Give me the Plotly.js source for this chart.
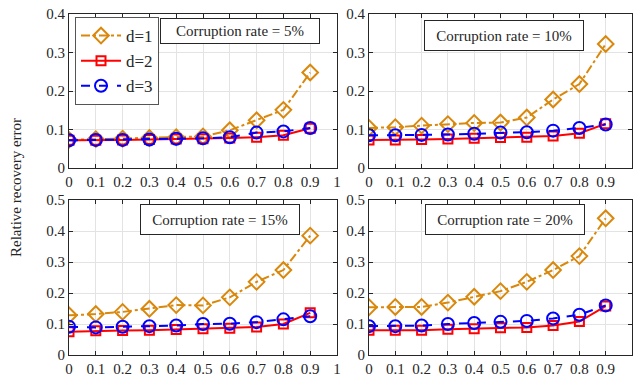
<!DOCTYPE html>
<html>
<head>
<meta charset="utf-8">
<script src="https://cdn.plot.ly/plotly-3.0.1.min.js"></script>
<style>
html,body{margin:0;padding:0;background:#fff;}
#chart{width:635px;height:377px;}
svg text{font-family:"Liberation Serif","Times New Roman",serif !important;}
</style>
</head>
<body>
<div id="chart"></div>
<script>
const xVals = [0, 0.1, 0.2, 0.3, 0.4, 0.5, 0.6, 0.7, 0.8, 0.9];
const panelTitles = ["Corruption rate = 5%", "Corruption rate = 10%", "Corruption rate = 15%", "Corruption rate = 20%"];
const seriesNames = ["d=1", "d=2", "d=3"];

const d1_5  = [0.073, 0.075, 0.076, 0.078, 0.080, 0.082, 0.098, 0.124, 0.151, 0.248];
const d2_5  = [0.072, 0.072, 0.073, 0.074, 0.075, 0.076, 0.078, 0.080, 0.085, 0.103];
const d3_5  = [0.072, 0.073, 0.073, 0.074, 0.076, 0.077, 0.080, 0.092, 0.095, 0.104];

const d1_10 = [0.104, 0.106, 0.110, 0.114, 0.117, 0.118, 0.131, 0.178, 0.218, 0.322];
const d2_10 = [0.073, 0.073, 0.074, 0.075, 0.077, 0.079, 0.080, 0.083, 0.090, 0.115];
const d3_10 = [0.085, 0.085, 0.086, 0.087, 0.089, 0.092, 0.093, 0.097, 0.104, 0.113];

const d1_15 = [0.128, 0.132, 0.139, 0.149, 0.161, 0.160, 0.186, 0.236, 0.274, 0.385];
const d2_15 = [0.075, 0.078, 0.079, 0.080, 0.082, 0.085, 0.086, 0.090, 0.100, 0.136];
const d3_15 = [0.091, 0.089, 0.091, 0.093, 0.095, 0.100, 0.101, 0.106, 0.115, 0.125];

const d1_20 = [0.154, 0.155, 0.155, 0.169, 0.188, 0.206, 0.236, 0.274, 0.319, 0.441];
const d2_20 = [0.080, 0.080, 0.080, 0.083, 0.085, 0.088, 0.089, 0.095, 0.108, 0.158];
const d3_20 = [0.093, 0.093, 0.095, 0.100, 0.103, 0.107, 0.110, 0.118, 0.130, 0.160];

const panels = [
  [d1_5, d2_5, d3_5],
  [d1_10, d2_10, d3_10],
  [d1_15, d2_15, d3_15],
  [d1_20, d2_20, d3_20]
];

const colors = ["#D9880B", "#FF0000", "#0000FF"];
const dashes = ["dashdot", "solid", "dash"];
const symbols = ["diamond-open", "square-open", "circle-open"];
const msizes = [12, 9, 12];

const traces = [];
panels.forEach((p, i) => {
  const ax = i === 0 ? "" : String(i + 1);
  p.forEach((ys, j) => {
    traces.push({
      x: xVals, y: ys, type: "scatter", mode: "lines+markers",
      name: seriesNames[j], showlegend: i === 0, legendgroup: seriesNames[j],
      xaxis: "x" + ax, yaxis: "y" + ax,
      line: {color: colors[j], width: 2, dash: dashes[j]},
      marker: {symbol: symbols[j], size: msizes[j], color: colors[j], line: {width: 2, color: colors[j]}}
    });
  });
});

const FAM = "Liberation Serif";
function mkFont(size) { return {family: FAM, size: size, color: "#262626"}; }
function xa(domain, anchor) {
  return {domain: domain, anchor: anchor, range: [0, 1], tickvals: [0,0.1,0.2,0.3,0.4,0.5,0.6,0.7,0.8,0.9,1],
    showgrid: true, gridcolor: "#e3e3e3", gridwidth: 1, zeroline: false,
    showline: true, linecolor: "#262626", linewidth: 1, mirror: "ticks",
    ticks: "inside", ticklen: 4, tickcolor: "#262626", tickfont: mkFont(15), fixedrange: true};
}
function ya(domain, anchor, top) {
  return {domain: domain, anchor: anchor, range: [0, top], dtick: 0.1, tick0: 0,
    showgrid: true, gridcolor: "#e3e3e3", gridwidth: 1, zeroline: false,
    showline: true, linecolor: "#262626", linewidth: 1, mirror: "ticks",
    ticks: "inside", ticklen: 4, tickcolor: "#262626", tickfont: mkFont(15), fixedrange: true};
}

const dxL = [69/635, 337/635], dxR = [369/635, 632/635];
const dyT = [209/377, 363/377], dyB = [22/377, 177/377];

function box(text, x, y, h) {
  return {text: text, xref: "paper", yref: "paper", x: x, y: y, xanchor: "center", yanchor: "middle",
    showarrow: false, bordercolor: "#262626", borderwidth: 1, bgcolor: "#ffffff", borderpad: 4,
    width: 150, height: h, font: mkFont(15)};
}

const layout = {
  width: 635, height: 377,
  margin: {l: 0, r: 0, t: 0, b: 0},
  paper_bgcolor: "#fff", plot_bgcolor: "#fff",
  font: mkFont(15),
  xaxis: xa(dxL, "y"), yaxis: ya(dyT, "x", 0.4),
  xaxis2: xa(dxR, "y2"), yaxis2: ya(dyT, "x2", 0.4),
  xaxis3: xa(dxL, "y3"), yaxis3: ya(dyB, "x3", 0.5),
  xaxis4: xa(dxR, "y4"), yaxis4: ya(dyB, "x4", 0.5),
  showlegend: true,
  legend: {x: 75/635, y: 1 - 17/377, xanchor: "left", yanchor: "top",
    bgcolor: "#fff", bordercolor: "#555", borderwidth: 1,
    font: mkFont(17), tracegroupgap: 0, itemwidth: 40},
  annotations: [
    box(panelTitles[0], 240/635, 1 - 31/377, 16),
    box(panelTitles[1], 504/635, 1 - 35/377, 21),
    box(panelTitles[2], 220/635, 1 - 219/377, 21),
    box(panelTitles[3], 505/635, 1 - 219/377, 21),
    {text: "Relative recovery error", xref: "paper", yref: "paper", x: 16/635, y: 1 - 188/377,
     xanchor: "center", yanchor: "middle", textangle: -90, showarrow: false, font: mkFont(15)}
  ]
};

Plotly.newPlot("chart", traces, layout, {staticPlot: true, displayModeBar: false});
</script>
</body>
</html>
